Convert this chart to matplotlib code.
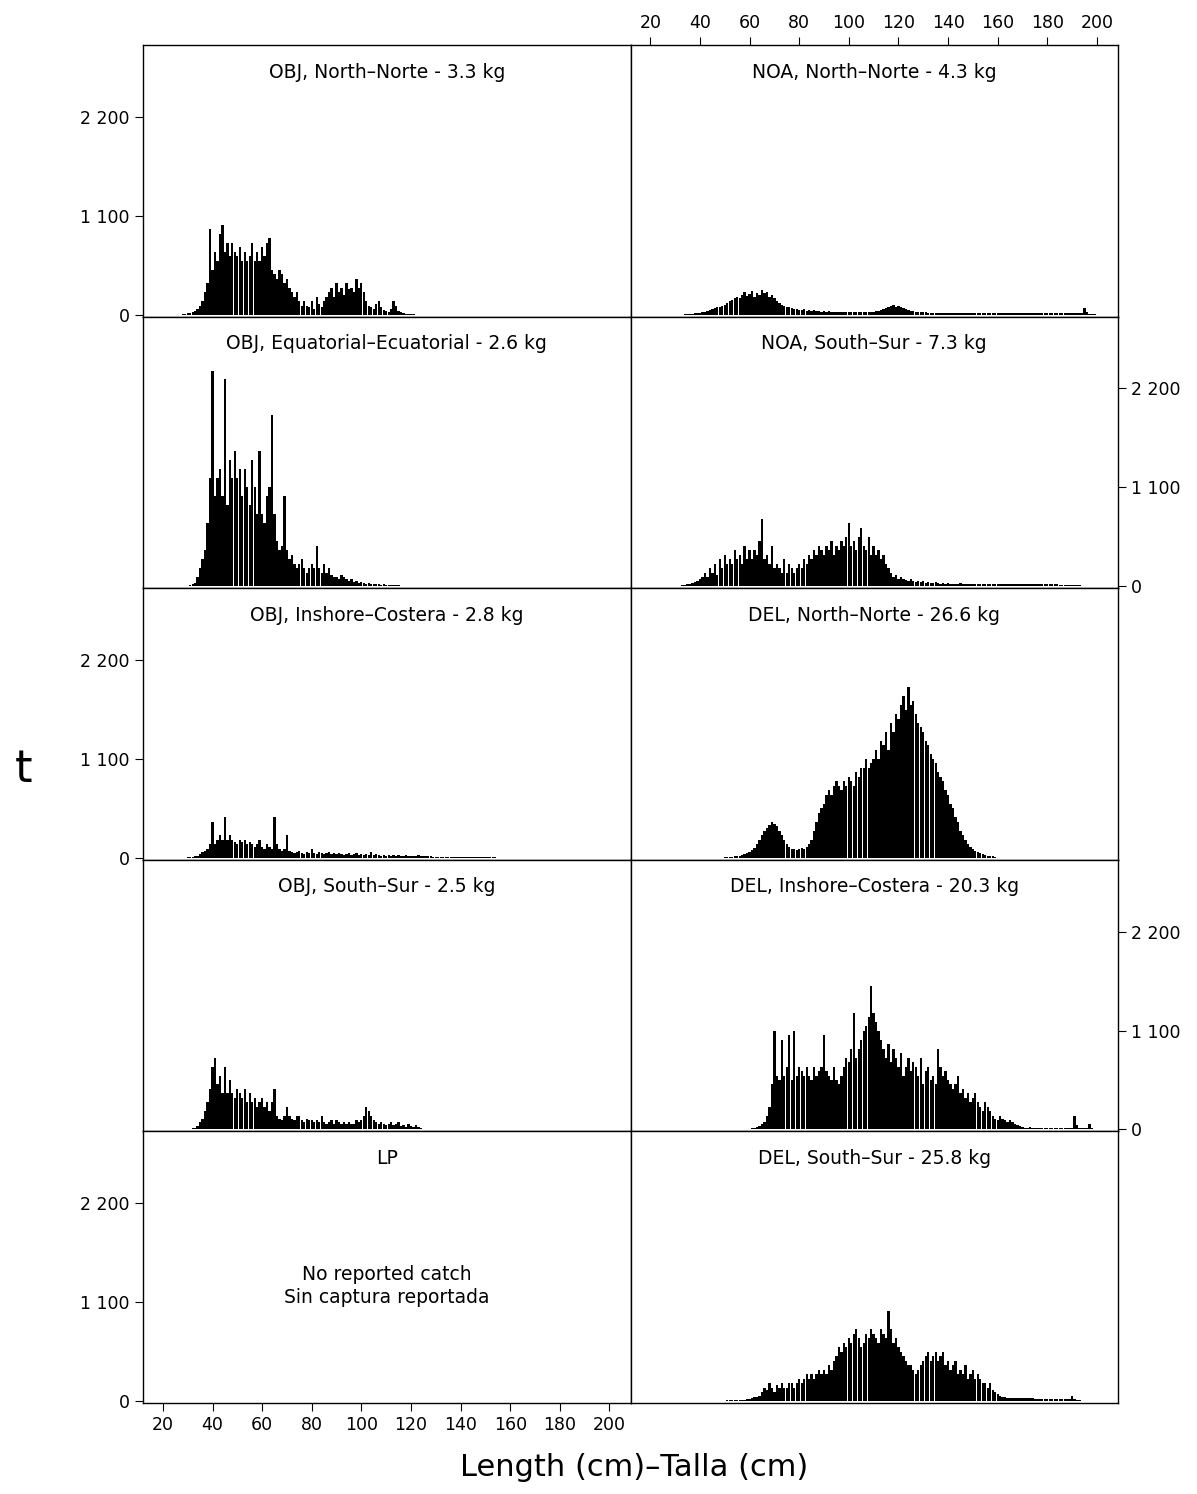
import matplotlib
matplotlib.use("Agg")
import matplotlib.pyplot as plt
import numpy as np

plt.rcParams['font.family'] = ['DejaVu Sans']

# ---- data: catch (t) per 1-cm length class; each series starts at given length ----
obj_north_start = 28
obj_north = [5,10,15,20,30,40,60,100,150,250,
             350,950,500,700,600,900,1000,700,800,650,
             800,700,650,750,600,700,600,650,800,600,
             700,600,750,650,800,850,500,450,400,500,
             450,350,400,300,250,200,250,150,100,150,
             100,80,150,60,200,120,80,150,200,250,
             300,200,350,250,300,220,350,280,300,250,
             400,300,350,250,150,100,80,60,120,150,
             80,50,40,30,60,150,100,40,30,20,
             10,10,5,5]

obj_equ_start = 30
obj_equ = [5,10,20,40,100,200,300,400,700,1200,
           2400,1000,1200,1300,1000,2300,900,1400,1200,1500,
           1200,1300,1000,1300,1100,900,1400,1100,800,1500,
           800,700,1000,1100,1900,800,500,400,450,1000,
           400,300,350,250,200,250,300,200,150,200,
           250,200,450,200,150,250,150,200,120,100,
           100,80,120,100,80,60,80,50,60,40,
           50,40,30,40,30,20,30,20,15,20,
           15,10,10,10,10,10,5,5,5,5,
           5,5,5,5,5,5]

obj_insh_start = 30
obj_insh = [5,5,10,15,20,40,60,80,100,150,
            400,150,200,250,200,450,200,250,200,180,
            150,200,180,200,150,180,150,120,150,200,
            120,100,150,120,100,450,150,100,80,100,
            250,80,60,50,60,80,50,40,60,50,
            100,50,40,60,50,40,50,60,40,50,
            40,50,40,30,40,50,30,40,50,30,
            40,30,40,30,60,30,40,30,20,30,
            20,30,20,30,20,30,20,20,30,20,
            20,20,20,30,20,20,20,20,20,10,
            10,10,10,10,10,5,5,5,5,5,
            5,5,5,5,5,5,5,5,5,5,
            5,5,5,5,5]

obj_south_start = 30
obj_south = [5,10,15,20,40,80,120,200,300,450,
             700,800,500,600,400,700,400,550,400,350,
             450,400,350,450,300,400,300,350,250,300,
             350,250,300,200,300,450,150,120,100,150,
             250,150,120,100,150,150,100,80,120,100,
             100,80,100,80,150,80,60,80,100,60,
             100,80,60,80,60,80,60,60,100,80,
             100,150,250,200,150,100,80,60,80,60,
             50,60,80,50,60,80,40,50,30,60,
             40,30,50,30,20,10,10,10,5,5,
             5,5,5]

noa_north_start = 34
noa_north = [5,5,10,10,15,15,20,25,30,40,
             50,60,70,80,90,100,110,130,150,160,
             180,200,190,220,250,210,230,260,200,240,
             220,270,240,250,200,220,180,150,130,110,
             100,90,80,70,60,60,50,50,60,40,
             50,40,50,40,40,30,40,30,40,30,
             30,30,30,30,30,30,30,30,30,30,
             30,30,30,30,30,30,30,40,40,50,
             60,70,90,100,110,90,100,80,70,60,
             50,40,40,30,30,30,30,30,20,20,
             20,20,20,20,20,20,20,20,20,20,
             20,20,20,20,20,20,20,20,20,20,
             20,20,20,20,20,20,20,20,20,20,
             20,20,20,20,20,20,20,20,20,20,
             20,20,20,20,20,20,20,20,20,20,
             20,20,20,20,20,20,20,20,20,20,
             20,70,30,10,10,10]

noa_south_start = 32
noa_south = [5,10,10,20,30,40,50,60,80,100,
             150,100,200,150,250,120,300,200,350,250,
             300,250,400,300,350,250,450,300,400,300,
             400,350,500,750,300,350,250,450,200,250,
             200,150,300,150,250,200,150,200,250,200,
             300,250,350,300,400,350,450,400,350,450,
             400,500,350,450,400,500,450,550,700,450,
             500,400,550,650,450,400,550,350,450,350,
             400,300,350,250,200,150,100,120,80,100,
             80,70,60,80,60,50,60,50,60,40,
             50,40,40,50,40,30,40,30,40,30,
             30,30,30,40,30,30,20,30,30,20,
             20,20,30,20,20,20,20,20,20,20,
             20,20,20,20,20,20,20,20,20,20,
             20,20,20,20,20,20,20,20,20,20,
             20,20,20,10,10,10,10,10,10,10,
             10,10]

del_north_start = 50
del_north = [5,5,10,10,15,20,25,30,40,50,
             70,90,110,150,200,250,300,330,370,400,
             380,350,300,250,200,150,120,100,100,90,
             100,110,100,120,150,200,300,400,500,550,
             600,700,750,700,800,850,800,750,850,800,
             900,850,800,950,900,1000,1000,1100,1000,1050,
             1100,1200,1100,1300,1250,1400,1200,1500,1400,1600,
             1550,1700,1800,1650,1900,1700,1750,1600,1500,1450,
             1400,1300,1250,1150,1100,1050,950,900,850,750,
             700,600,550,450,400,300,250,200,150,120,
             100,80,60,50,40,30,25,20,15,10]

del_insh_start = 57
del_insh = [5,5,10,10,15,20,30,40,60,80,
            150,250,500,1100,600,550,1000,600,700,1050,
            550,1100,600,700,650,600,700,600,550,700,
            600,650,700,1050,650,600,550,700,550,500,
            600,700,800,750,900,1300,800,900,1000,1100,
            1150,1250,1600,1300,1200,1100,1000,900,800,950,
            750,900,800,700,850,600,700,800,650,750,
            700,600,800,500,650,700,550,600,500,900,
            700,600,650,550,500,450,500,600,400,450,
            350,400,300,350,400,300,250,200,300,250,
            200,150,120,100,150,120,100,80,100,80,
            60,50,40,30,20,20,30,20,20,20,
            20,20,20,20,20,20,20,20,20,20,
            20,20,20,20,150,50,20,20,20,20,
            60,20,10]

del_south_start = 45
del_south = [5,5,5,5,5,5,10,10,10,10,
             10,10,15,15,20,20,30,40,50,60,
             100,150,120,200,150,100,180,150,200,150,
             150,200,200,150,200,250,200,250,300,250,
             300,250,300,350,300,350,300,400,350,450,
             500,600,550,650,600,700,650,750,800,700,
             600,650,750,700,800,750,700,650,800,750,
             700,1000,800,650,700,600,550,500,450,400,
             400,350,300,350,400,450,500,550,450,500,
             550,450,500,550,400,450,350,400,450,300,
             350,300,400,250,300,350,250,300,250,200,
             200,150,200,120,100,80,60,50,40,30,
             30,30,30,30,30,30,30,30,30,30,
             20,20,20,20,20,20,20,20,20,20,
             20,20,20,20,20,60,20,10,10]

left_titles = ["OBJ, North\u2013Norte - 3.3 kg", "OBJ, Equatorial\u2013Ecuatorial - 2.6 kg",
               "OBJ, Inshore\u2013Costera - 2.8 kg", "OBJ, South\u2013Sur - 2.5 kg", "LP"]
right_titles = ["NOA, North\u2013Norte - 4.3 kg", "NOA, South\u2013Sur - 7.3 kg",
                "DEL, North\u2013Norte - 26.6 kg", "DEL, Inshore\u2013Costera - 20.3 kg",
                "DEL, South\u2013Sur - 25.8 kg"]
left_data = [(obj_north_start, obj_north), (obj_equ_start, obj_equ),
             (obj_insh_start, obj_insh), (obj_south_start, obj_south), None]
right_data = [(noa_north_start, noa_north), (noa_south_start, noa_south),
              (del_north_start, del_north), (del_insh_start, del_insh),
              (del_south_start, del_south)]

y_ticks = [0, 1100, 2200]
y_labels = ["0", "1 100", "2 200"]
x_ticks = list(range(20, 201, 20))

fig, axes = plt.subplots(5, 2, figsize=(11.97, 14.94), dpi=100)
fig.subplots_adjust(left=0.1195, right=0.934, top=0.9699, bottom=0.0609, hspace=0, wspace=0)

for c, (titles, datas) in enumerate([(left_titles, left_data), (right_titles, right_data)]):
    for r in range(5):
        ax = axes[r, c]
        d = datas[r]
        if d is not None:
            start, vals = d
            x = np.arange(start, start + len(vals))
            ax.bar(x, vals, width=0.92, color='black', linewidth=0)
        ax.set_xlim(12, 208.5)
        ax.set_ylim(-22, 3000)
        ax.text(0.5, 0.90, titles[r], transform=ax.transAxes, ha='center', va='center', fontsize=13.5)
        for s in ax.spines.values():
            s.set_linewidth(1.0)
        ax.tick_params(direction='out', length=6, labelsize=12.5)
        show_y = (c == 0 and r in (0, 2, 4)) or (c == 1 and r in (1, 3))
        if show_y:
            ax.set_yticks(y_ticks)
            ax.set_yticklabels(y_labels)
            if c == 1:
                ax.yaxis.tick_right()
        else:
            ax.set_yticks([])
        if c == 0 and r == 4:
            ax.set_xticks(x_ticks)
        elif c == 1 and r == 0:
            ax.set_xticks(x_ticks)
            ax.xaxis.tick_top()
        else:
            ax.set_xticks([])

axes[4, 0].text(0.5, 0.43, "No reported catch\nSin captura reportada", transform=axes[4, 0].transAxes,
                ha='center', va='center', fontsize=13.5, linespacing=1.3)
fig.text(0.53, 0.018, "Length (cm)\u2013Talla (cm)", ha='center', va='center', fontsize=22)
fig.text(0.02, 0.485, "t", ha='center', va='center', fontsize=32)

fig.savefig("out.png", dpi=100)
